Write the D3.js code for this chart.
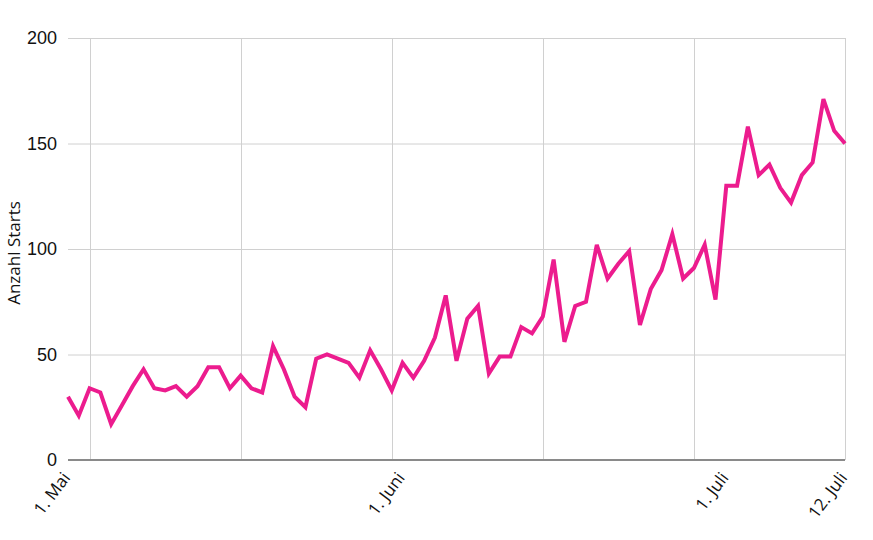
<!DOCTYPE html>
<html>
<head>
<meta charset="utf-8">
<script src="https://cdn.jsdelivr.net/npm/d3@7"></script>
<style>
  html, body { margin: 0; padding: 0; background: #fff; }
  svg { display: block; }
</style>
</head>
<body>
<svg id="chart" width="873" height="540"></svg>
<script>
// ---- data ----
const startDate = new Date(2020, 4, 1);   // 1. Mai
const endDate = new Date(2020, 6, 12);    // 12. Juli
const dates = d3.timeDay.range(startDate, d3.timeDay.offset(endDate, 1));
const values = [
  30, 21, 34, 32, 17, 26, 35, 43, 34, 33,
  35, 30, 35, 44, 44, 34, 40, 34, 32, 54,
  43, 30, 25, 48, 50, 48, 46, 39, 52, 43,
  33, 46, 39, 47, 58, 78, 47, 67, 73, 41,
  49, 49, 63, 60, 68, 95, 56, 73, 75, 102,
  86, 93, 99, 64, 81, 90, 107, 86, 91, 102,
  76, 130, 130, 158, 135, 140, 129, 122, 135, 141,
  171, 156, 150
];
const yTicks = [0, 50, 100, 150, 200];
const xTickDates = [new Date(2020, 4, 1), new Date(2020, 5, 1), new Date(2020, 6, 1), new Date(2020, 6, 12)];
const xTickLabels = ["1. Mai", "1. Juni", "1. Juli", "12. Juli"];
const gridStepDays = 14;
const yTitle = "Anzahl Starts";

// ---- layout ----
const svg = d3.select("#chart");
const mLeft = 68, mRight = 845, mTop = 38, mBottom = 460;

const x = d3.scaleTime().domain([startDate, endDate]).range([mLeft, mRight]);
const y = d3.scaleLinear().domain([0, 200]).range([mBottom, mTop]);

// vertical grid dates: every 14 days counting back from the end
const gridDates = [];
for (let d = endDate; d >= startDate; d = d3.timeDay.offset(d, -gridStepDays)) gridDates.push(d);

const grid = svg.append("g");
grid.selectAll("line.h").data(yTicks.filter(v => v > 0)).join("line")
  .attr("x1", mLeft).attr("x2", mRight)
  .attr("y1", d => y(d) + 0.5).attr("y2", d => y(d) + 0.5)
  .attr("stroke", "#d0d0d0").attr("stroke-width", 1);
grid.selectAll("line.v").data(gridDates).join("line")
  .attr("x1", d => Math.round(x(d)) + 0.5).attr("x2", d => Math.round(x(d)) + 0.5)
  .attr("y1", mTop).attr("y2", mBottom)
  .attr("stroke", "#d0d0d0").attr("stroke-width", 1);

// baseline
svg.append("line")
  .attr("x1", mLeft).attr("x2", mRight)
  .attr("y1", y(0)).attr("y2", y(0))
  .attr("stroke", "#8a8a8a").attr("stroke-width", 2);

// y tick labels
svg.append("g").selectAll("text").data(yTicks).join("text")
  .attr("x", 57).attr("y", d => y(d))
  .attr("dy", "0.36em")
  .attr("text-anchor", "end")
  .attr("font-family", "Liberation Sans, Arial, sans-serif")
  .attr("font-size", 18)
  .attr("fill", "#111")
  .text(d => d);

// y title
svg.append("text")
  .attr("transform", `translate(20,${(mTop + mBottom) / 2 + 4}) rotate(-90)`)
  .attr("text-anchor", "middle")
  .attr("font-family", "Open Sans, Noto Sans, sans-serif")
  .attr("font-size", 17)
  .attr("fill", "#111")
  .text(yTitle);

// x tick labels
svg.append("g").selectAll("text").data(xTickDates).join("text")
  .attr("transform", d => `translate(${x(d) + 3},478) rotate(-53)`)
  .attr("text-anchor", "end")
  .attr("font-family", "Open Sans, Noto Sans, sans-serif")
  .attr("font-size", 17)
  .attr("fill", "#111")
  .text((d, i) => xTickLabels[i]);

// line
const line = d3.line()
  .x((d, i) => x(dates[i]))
  .y(d => y(d));
svg.append("path")
  .datum(values)
  .attr("d", line)
  .attr("fill", "none")
  .attr("stroke", "#ec1c8e")
  .attr("stroke-width", 4)
  .attr("stroke-linejoin", "miter")
  .attr("stroke-miterlimit", 4);
</script>
</body>
</html>
